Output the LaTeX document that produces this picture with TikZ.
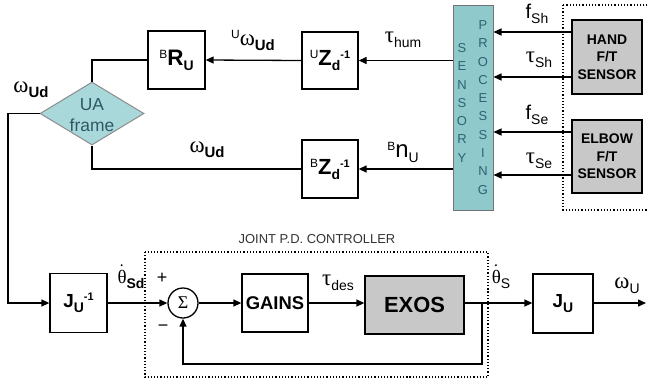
\documentclass[tikz,border=0pt]{standalone}
\usepackage{fontspec}
\setmainfont{Liberation Sans}
\newfontfamily\gk{Liberation Serif}
\usetikzlibrary{shapes.geometric,arrows.meta}
\definecolor{tealA}{HTML}{8FC9CC}
\definecolor{tealB}{HTML}{A9D8DA}
\definecolor{tealtxt}{HTML}{2E6272}
\definecolor{uatxt}{HTML}{2F5866}
\definecolor{greyA}{HTML}{C8C8C8}
\newcommand\sbx[2][14]{\raisebox{-5bp}{\fontsize{#1}{#1}\selectfont #2}}
\newcommand\spx[2][12]{\raisebox{7bp}{\fontsize{#1}{#1}\selectfont #2}}
\newcommand\gkl[2][23]{{\gk\fontsize{#1}{#1}\selectfont #2}}
\begin{document}
\begin{tikzpicture}[x=1bp,y=-1bp,line width=1.3bp,
  blk/.style={draw=black,line width=1.3bp,inner sep=0,align=center},
  arr/.style={-{Triangle[length=8bp,width=7bp]}},
  lab/.style={inner sep=0,align=center}]
\useasboundingbox (0,0) rectangle (648,386);
\fill[white] (0,0) rectangle (648,386);

% top row
\node[blk,minimum width=57bp,minimum height=58bp] (BR) at (176.5,60)
  {\spx{B}{\fontsize{22.5}{22.5}\selectfont\bfseries R}\sbx{\bfseries U}};
\node[blk,minimum width=56bp,minimum height=57bp] (UZ) at (330,60.5)
  {\spx{U}{\fontsize{22}{22}\selectfont\bfseries Z}\sbx{\bfseries d}\spx[11]{\bfseries -1}};
\node[blk,minimum width=56bp,minimum height=58bp] (BZ) at (330,169)
  {\spx{B}{\fontsize{22}{22}\selectfont\bfseries Z}\sbx{\bfseries d}\spx[11]{\bfseries -1}};

% sensory processing
\node[draw=black!55,fill=tealA,line width=1bp,minimum width=40bp,minimum height=205bp,inner sep=0] (sens) at (473,107.5) {};
\foreach \l [count=\i] in {S,E,N,S,O,R,Y}
  \node[lab,text=tealtxt,font=\fontsize{13}{13}\selectfont] (sa\i) at (462,{48+18.3*(\i-1)}) {\l};
\foreach \l [count=\i] in {P,R,O,C,E,S,S,I,N,G}
  \node[lab,text=tealtxt,font=\fontsize{13}{13}\selectfont] (sb\i) at (483,{25+18.3*(\i-1)}) {\l};

% sensors
\draw[dotted,line width=1.2bp] (563,5) rectangle (670,210);
\node[blk,fill=greyA,minimum width=70bp,minimum height=74bp,font=\bfseries\fontsize{14}{17.5}\selectfont] (hand) at (607,57) {HAND\\F/T\\SENSOR};
\node[blk,fill=greyA,minimum width=70bp,minimum height=73bp,font=\bfseries\fontsize{14}{17.5}\selectfont] (elbow) at (607,156.5) {ELBOW\\F/T\\SENSOR};
\coordinate (yA) at (0,32);
\coordinate (yB) at (0,77);
\coordinate (yC) at (0,132);
\coordinate (yD) at (0,175);
\draw[arr] (hand.west |- yA) -- (sens.east |- yA);
\draw[arr] (hand.west |- yB) -- (sens.east |- yB);
\draw[arr] (elbow.west |- yC) -- (sens.east |- yC);
\draw[arr] (elbow.west |- yD) -- (sens.east |- yD);
\node[lab] (lfsh) at (537,14) {{\fontsize{20}{20}\selectfont f}\sbx{Sh}};
\node[lab] (ltsh) at (539,60) {\gkl{τ}\sbx{Sh}};
\node[lab] (lfse) at (537,115) {{\fontsize{20}{20}\selectfont f}\sbx{Se}};
\node[lab] (ltse) at (539,161) {\gkl{τ}\sbx{Se}};

% UA frame diamond
\node[diamond,draw=black!45,fill=tealB,line width=1bp,minimum width=104bp,minimum height=63bp,inner sep=0] (ua) at (92,113.5) {};
\node[lab,text=uatxt,font=\fontsize{17.5}{21}\selectfont] (uat) at (92,115) {UA\\frame};

% top connectors
\draw[arr] (sens.west |- UZ) -- (UZ.east);
\draw[arr] (UZ.west) -- (BR.east);
\draw[arr] (sens.west |- BZ) -- (BZ.east);
\draw (BR.west) -| (ua.north);
\draw (ua.south) |- (BZ.west);
\node[lab] (lthum) at (403,40) {\gkl{τ}\sbx{hum}};
\node[lab] (luw) at (253,40) {\spx{U}\gkl{ω}\sbx[15]{\bfseries Ud}};
\node[lab] (lbn) at (403,152) {\spx{B}{\fontsize{24}{24}\selectfont n}\sbx{U}};
\node[lab] (lwm) at (207,150) {\gkl{ω}\sbx[15]{\bfseries Ud}};
\node[lab] (lwl) at (31,90) {\gkl{ω}\sbx[15]{\bfseries Ud}};

% bottom row
\node[lab,text=black!80,font=\fontsize{13}{13}\selectfont] (ljc) at (317,239) {JOINT P.D. CONTROLLER};
\draw[dotted,line width=1.2bp] (145,252) rectangle (488,377);
\node[blk,minimum width=57bp,minimum height=59bp] (Ji) at (78.5,303)
  {{\fontsize{19}{19}\selectfont\bfseries J}\sbx{\bfseries U}\spx[11]{\bfseries -1}};
\node[draw,circle,minimum size=30bp,inner sep=0,line width=1.3bp] (sum) at (183,303) {\gkl[18]{Σ}};
\node[blk,minimum width=66bp,minimum height=58bp,font=\bfseries\fontsize{18.5}{18.5}\selectfont] (gains) at (275,303) {GAINS};
\node[blk,fill=greyA,minimum width=99bp,minimum height=58bp,font=\bfseries\fontsize{22}{22}\selectfont] (exos) at (414.5,305) {EXOS};
\node[blk,minimum width=60bp,minimum height=59bp] (JU) at (563,303.5)
  {{\fontsize{19}{19}\selectfont\bfseries J}\sbx{\bfseries U}};
\coordinate (lc) at (8,113.5);
\draw[arr] (ua.west) -- (lc) |- (Ji.west);
\draw[arr] (Ji.east) -- (sum.west);
\draw[arr] (sum.east) -- (gains.west);
\draw[arr] (gains.east) -- (exos.west |- gains.east);
\draw[arr] (exos.east |- gains.east) -- (JU.west |- gains.east);
\coordinate (jn) at (482,303);
\coordinate (fb) at (482,364);
\draw[arr] (jn) -- (fb) -| (sum.south);
\coordinate (out) at (646,303);
\draw[arr] (JU.east |- out) -- (out);
\node[lab] (lths) at (131,279) {\gkl[19]{θ}\sbx{\bfseries Sd}};
\fill ([xshift=4.8bp,yshift=4bp]lths.north west) circle (1.1bp);
\node[lab] (lplus) at (162,278) {\fontsize{18}{18}\selectfont +};
\node[lab] (lminus) at (163,328) {\fontsize{18}{18}\selectfont −};
\node[lab] (ltdes) at (338,283) {\gkl{τ}\sbx{des}};
\node[lab] (lthS) at (501,279) {\gkl[19]{θ}\sbx{S}};
\fill ([xshift=4.8bp,yshift=4bp]lthS.north west) circle (1.1bp);
\node[lab] (lwu) at (627,286) {\gkl{ω}\sbx{U}};
\end{tikzpicture}
\end{document}
